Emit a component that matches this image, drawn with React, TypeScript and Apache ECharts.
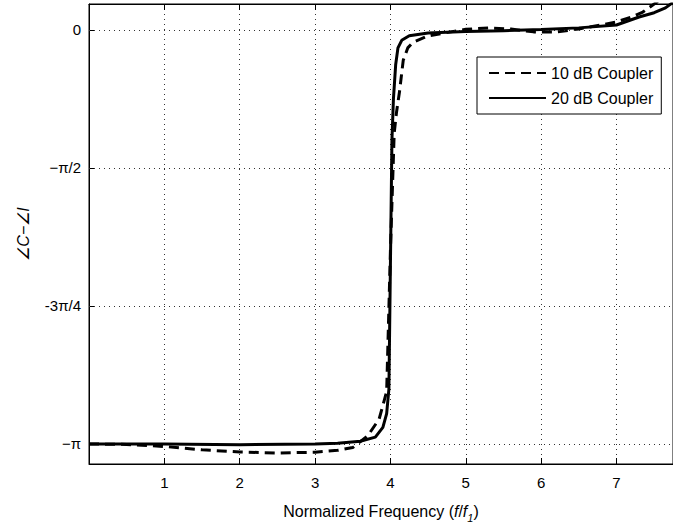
import React, { useEffect, useRef } from "react";
import * as echarts from "echarts";

// Y values are in "grid steps": 0, -1, -2, -3 correspond to the labels below
const yTickValues = [0, -1, -2, -3];
const yTickLabels = ["0", "\u2212\u03c0/2", "-3\u03c0/4", "\u2212\u03c0"];

const freq10 = [0, 0.5, 1.0, 1.5, 2.0, 2.5, 3.0, 3.3, 3.5, 3.7, 3.85, 3.95, 4.0, 4.05, 4.08, 4.12, 4.17, 4.23, 4.3, 4.5, 4.8, 5.0, 5.3, 5.6, 5.9, 6.2, 6.5, 6.8, 7.0, 7.2, 7.35, 7.5, 7.7];
const phase10 = [-3.0, -3.003, -3.018, -3.042, -3.058, -3.065, -3.06, -3.046, -3.026, -2.94, -2.82, -2.62, -1.6, -0.75, -0.6, -0.45, -0.22, -0.13, -0.09, -0.043, -0.014, 0.005, 0.014, 0.007, -0.014, -0.014, 0.007, 0.036, 0.058, 0.094, 0.13, 0.188, 0.26];

const freq20 = [0, 1, 2, 3, 3.3, 3.6, 3.8, 3.9, 3.95, 3.98, 4.0, 4.02, 4.04, 4.07, 4.1, 4.15, 4.25, 4.5, 5.0, 5.5, 6.0, 6.5, 7.0, 7.3, 7.5, 7.65, 7.75];
const phase20 = [-3.0, -3.0, -3.005, -3.0, -2.995, -2.98, -2.95, -2.88, -2.78, -2.6, -1.7, -0.8, -0.5, -0.25, -0.13, -0.075, -0.042, -0.022, -0.012, -0.005, 0.003, 0.015, 0.036, 0.094, 0.125, 0.16, 0.2];

const seriesNames = ["10 dB Coupler", "20 dB Coupler"];

const FONT = "Liberation Sans, Arial, Helvetica, sans-serif";
const gridLine = { color: "#333", width: 1, type: [1, 4] as any };

export default function App() {
  const ref = useRef<HTMLDivElement>(null);
  useEffect(() => {
    document.body.style.margin = "0";
    const chart = echarts.init(ref.current!, null, { renderer: "svg" });
    const d10 = freq10.map((f, i) => [f, phase10[i]]);
    const d20 = freq20.map((f, i) => [f, phase20[i]]);
    chart.setOption({
      animation: false,
      backgroundColor: "#fff",
      textStyle: { fontFamily: FONT },
      grid: {
        left: 89,
        top: 4,
        right: -5,
        bottom: 65,
        show: true,
        borderColor: "#000",
        borderWidth: 1,
        backgroundColor: "transparent",
      },
      legend: {
        orient: "vertical",
        left: 477,
        top: 57,
        padding: [8, 8, 8, 11],
        itemWidth: 57,
        itemHeight: 16,
        itemGap: 9,
        borderColor: "#000",
        borderWidth: 1,
        backgroundColor: "#fff",
        itemStyle: { opacity: 0 },
        textStyle: { fontSize: 16, color: "#000", fontFamily: FONT },
        data: seriesNames,
      },
      xAxis: [
        {
          type: "value",
          min: 0,
          max: 7.75,
          interval: 1,
          name: "{n|Normalized Frequency (}{i|f}{n|/}{i|f}{s|1}{n|)}",
          nameLocation: "middle",
          nameGap: 35,
          nameTextStyle: {
            rich: {
              n: { fontSize: 16, color: "#000", fontFamily: FONT, lineHeight: 24 },
              i: { fontSize: 16, color: "#000", fontFamily: FONT, fontStyle: "italic", lineHeight: 24 },
              s: { fontSize: 11, color: "#000", fontFamily: FONT, fontStyle: "italic", lineHeight: 24, verticalAlign: "bottom" },
            },
          },
          axisLine: { show: true, onZero: false, lineStyle: { color: "#000", width: 1 } },
          axisTick: { show: true, inside: true, length: 6, lineStyle: { color: "#000" } },
          axisLabel: {
            showMinLabel: false,
            showMaxLabel: false,
            fontSize: 15,
            color: "#000",
            margin: 11,
            fontFamily: FONT,
          },
          splitLine: { show: true, lineStyle: gridLine },
        },
        {
          type: "value",
          position: "top",
          min: 0,
          max: 7.75,
          interval: 1,
          axisLine: { show: true, onZero: false, lineStyle: { color: "#000", width: 1 } },
          axisTick: { show: true, inside: true, length: 6, lineStyle: { color: "#000" } },
          axisLabel: { show: false },
          splitLine: { show: false },
        },
      ],
      yAxis: {
        type: "value",
        min: -3.145,
        max: 0.188,
        name: "\u2220C\u2212\u2220I",
        nameLocation: "middle",
        nameGap: 58,
        nameRotate: 90,
        nameTextStyle: { fontSize: 16, color: "#000", fontStyle: "italic", fontFamily: FONT },
        axisLine: { show: true, onZero: false, lineStyle: { color: "#000", width: 1 } },
        axisTick: {
          show: true,
          inside: true,
          length: 6,
          customValues: yTickValues,
          lineStyle: { color: "#000" },
        },
        axisLabel: {
          customValues: yTickValues,
          fontSize: 15,
          color: "#000",
          margin: 8,
          fontFamily: FONT,
          formatter: (v: number) => {
            const idx = yTickValues.findIndex((t) => Math.abs(t - v) < 1e-6);
            return idx >= 0 ? yTickLabels[idx] : "";
          },
        },
        splitLine: { show: false },
      },
      series: [
        {
          name: seriesNames[0],
          type: "line",
          data: d10,
          showSymbol: false,
          symbol: "none",
          z: 4,
          lineStyle: { color: "#000", width: 3, type: [10, 6] },
          itemStyle: { color: "#000" },
        },
        {
          name: seriesNames[1],
          type: "line",
          data: d20,
          showSymbol: false,
          symbol: "none",
          z: 5,
          lineStyle: { color: "#000", width: 3, type: "solid" },
          itemStyle: { color: "#000" },
          markLine: {
            silent: true,
            symbol: ["none", "none"],
            label: { show: false },
            lineStyle: gridLine,
            animation: false,
            data: yTickValues.map((v) => ({ yAxis: v })),
          },
        },
      ],
    });
    return () => chart.dispose();
  }, []);
  return <div ref={ref} style={{ width: 673, height: 529 }} />;
}
